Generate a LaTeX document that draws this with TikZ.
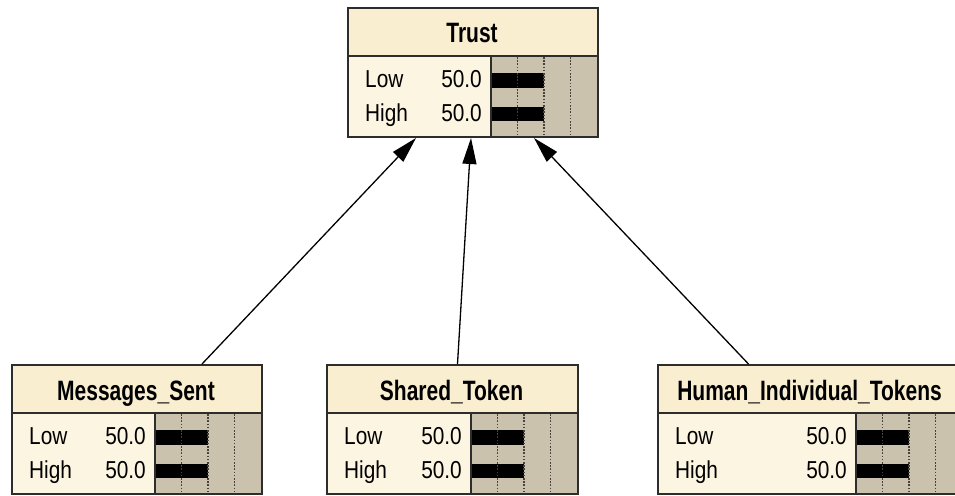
\documentclass[tikz,border=0pt]{standalone}
\usepackage{fontspec}
\setmainfont{Liberation Sans}
\newfontfamily\statefont[FakeStretch=0.85]{Liberation Sans}
\newfontfamily\namefont[FakeStretch=0.75]{Liberation Sans}
\usetikzlibrary{arrows.meta}

\definecolor{headfill}{RGB}{250,238,208}
\definecolor{bodyfill}{RGB}{252,245,225}
\definecolor{barfill}{RGB}{203,194,174}
\definecolor{edgegray}{RGB}{45,45,45}
\definecolor{dotgray}{RGB}{70,66,62}

\tikzset{
  nodebox/.style={draw=edgegray, line width=2pt, minimum height=129pt, inner sep=0pt, anchor=north west},
  title/.style={font=\namefont\bfseries\fontsize{28}{30}\selectfont, anchor=base, inner sep=0pt},
  state/.style={font=\statefont\fontsize{24.5}{26}\selectfont, inner sep=0pt},
  gridline/.style={dotgray, line width=1.6pt, dash pattern=on 1.6pt off 1.6pt},
  link/.style={line width=1.3pt, -{Triangle[length=26pt,width=14pt]}}
}

% belief box: #1 name, #2 left, #3 top, #4 width, #5 title
\newcommand{\beliefbox}[5]{
  \begin{scope}[shift={(#2,#3)}]
    \fill[bodyfill] (0,0) rectangle (#4,129);
    \fill[headfill] (0,0) rectangle (#4,49);
    \fill[barfill] (#4-106,49) rectangle (#4,129);
    % both states at 50%
    \fill (#4-106,66) rectangle (#4-53,81);
    \fill (#4-106,100) rectangle (#4-53,114);
    \foreach \f in {0.25,0.5,0.75}
      \draw[gridline] (#4-106+106*\f,50) -- (#4-106+106*\f,129);
    \draw[edgegray, line width=2pt] (0,49) -- (#4,49);
    \draw[edgegray, line width=2pt] (#4-106,49) -- (#4-106,129);
    \node[nodebox, minimum width=#4pt] (#1) at (0,0) {};
    \node[title] (#1-name) at (#4/2,36) {#5};
    \node[state, anchor=base west] (#1-lo) at (18,80) {Low};
    \node[state, anchor=base east] (#1-lov) at (#4-115,80) {50.0};
    \node[state, anchor=base west] (#1-hi) at (18,114) {High};
    \node[state, anchor=base east] (#1-hiv) at (#4-115,114) {50.0};
  \end{scope}
}

\begin{document}
\begin{tikzpicture}[x=1pt,y=-1pt]
  \useasboundingbox (0,0) rectangle (955,495);
  \fill[white] (0,0) rectangle (955,495);

  \beliefbox{trust}{347}{7}{250}{Trust}
  \beliefbox{msg}{11}{364}{250}{Messages\_Sent}
  \beliefbox{token}{326}{364}{251}{Shared\_Token}
  \beliefbox{human}{657}{364}{305}{Human\_Individual\_Tokens}

  % parents -> Trust
  \draw[link] ([xshift=65pt]msg.north) -- ([xshift=-57pt]trust.south);
  \draw[link] ([xshift=5pt]token.north) -- ([xshift=-2pt]trust.south);
  \draw[link] ([xshift=-62pt]human.north) -- ([xshift=61pt]trust.south);
\end{tikzpicture}
\end{document}
